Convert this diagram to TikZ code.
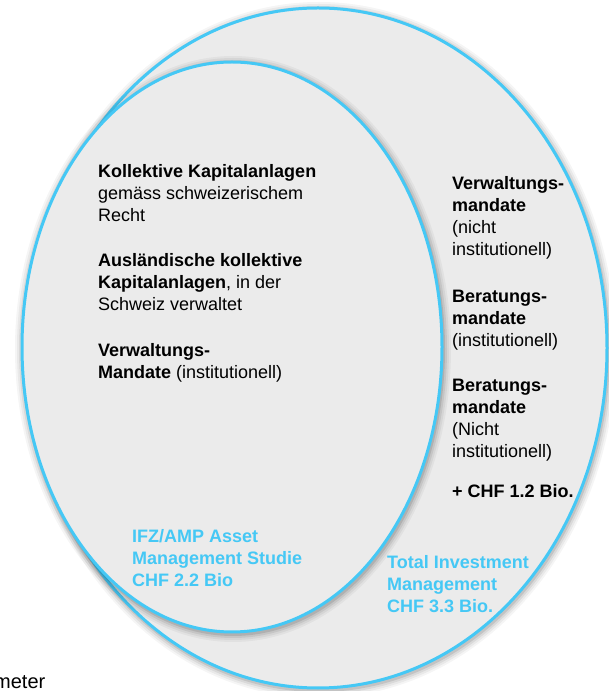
\documentclass[tikz,border=0pt]{standalone}
\usepackage{fontspec}
\setmainfont{Liberation Sans}
\definecolor{venblue}{HTML}{45C8F5}
\definecolor{venfill}{HTML}{EBEBEB}
\tikzset{
  ring/.style={draw=venblue, line width=3pt, fill=venfill},
  halo/.style={draw=black},
  txt/.style={anchor=base west, align=left, inner sep=0pt, font=\fontsize{18}{22}\selectfont},
  tag/.style={txt, text=venblue, font=\fontsize{18}{22}\selectfont\bfseries}
}
\begin{document}
\begin{tikzpicture}[x=1pt,y=1pt]
\useasboundingbox (0,0) rectangle (609,691);
\clip (0,0) rectangle (609,691);
\coordinate (outc) at (318,343);
\coordinate (innc) at (232,344);
% outer ellipse
\foreach \w/\o in {16/0.04,12/0.05,8/0.07,4/0.1}
  \draw[halo, line width=\w pt, opacity=\o] ([shift={(1,-2)}]outc) ellipse [x radius=289pt, y radius=340pt];
\draw[ring] (outc) ellipse [x radius=289pt, y radius=340pt];
% inner ellipse
\foreach \w/\o in {16/0.04,12/0.05,8/0.07,4/0.1}
  \draw[halo, line width=\w pt, opacity=\o] ([shift={(1,-2)}]innc) ellipse [x radius=210pt, y radius=285pt];
\draw[ring] (innc) ellipse [x radius=210pt, y radius=285pt];
% left texts (anchored at last line)
\node[txt] (coll) at (98,469) {\textbf{Kollektive Kapitalanlagen}\\gemäss schweizerischem\\Recht};
\node[txt] (ausl) at (98,380) {\textbf{Ausländische kollektive}\\\textbf{Kapitalanlagen}, in der\\Schweiz verwaltet};
\node[txt] (verw) at (98,312) {\textbf{Verwaltungs-}\\\textbf{Mandate} (institutionell)};
% right texts
\node[txt] (vnicht) at (452,435) {\textbf{Verwaltungs-}\\\textbf{mandate}\\(nicht\\institutionell)};
\node[txt] (binst) at (452,344) {\textbf{Beratungs-}\\\textbf{mandate}\\(institutionell)};
\node[txt] (bnicht) at (452,233) {\textbf{Beratungs-}\\\textbf{mandate}\\(Nicht\\institutionell)};
\node[txt] (plus) at (452,193) {\textbf{+ CHF 1.2 Bio.}};
% blue labels
\node[tag] (ifz) at (132,104) {IFZ/AMP Asset\\Management Studie\\CHF 2.2 Bio};
\node[tag] (tim) at (387,78) {Total Investment\\Management\\CHF 3.3 Bio.};
\node[txt, font=\fontsize{20}{24}\selectfont] (meter) at (-6,2) {meter};
\end{tikzpicture}
\end{document}
